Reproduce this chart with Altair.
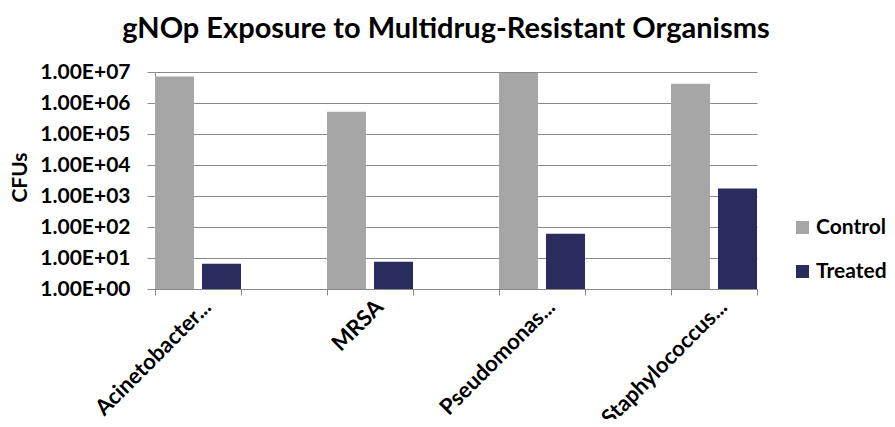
import altair as alt
import pandas as pd

# ---- data ----
categories = ["Acinetobacter...", "MRSA", "Pseudomonas...", "Staphylococcus..."]
control = [7.2e6, 5.2e5, 9.3e6, 4.2e6]
treated = [6.5, 7.6, 61, 1760]
series = ["Control", "Treated"]
colors = ["#A6A6A6", "#292C5C"]
y_ticks = [1, 10, 100, 1e3, 1e4, 1e5, 1e6, 1e7]
title_text = "gNOp Exposure to Multidrug-Resistant Organisms"

rows = []
for c, a, b in zip(categories, control, treated):
    rows.append({"Organism": c, "Group": series[0], "CFUs": a})
    rows.append({"Organism": c, "Group": series[1], "CFUs": b})
df = pd.DataFrame(rows)

# each organism occupies a labelled slot; an empty slot sits between organisms
slots = []
for i, c in enumerate(categories):
    slots.append(c)
    if i < len(categories) - 1:
        slots.append(" " * (i + 1))

FONT = "Lato"
GRAY = "#8A8A8A"

chart = (
    alt.Chart(df)
    .mark_bar()
    .encode(
        x=alt.X(
            "Organism:N",
            scale=alt.Scale(domain=slots, paddingInner=0, paddingOuter=0),
            axis=alt.Axis(
                title=None,
                labelAngle=-45,
                labelAlign="right",
                labelBaseline="top",
                labelFont=FONT,
                labelFontSize=22,
                labelFontWeight="bold",
                labelColor="black",
                labelOffset=2,
                labelPadding=1,
                tickBand="extent",
                tickSize=6,
                tickColor=GRAY,
                domainColor=GRAY,
                grid=False,
            ),
        ),
        xOffset=alt.XOffset(
            "Group:N",
            scale=alt.Scale(domain=series, paddingInner=0.17, paddingOuter=0),
        ),
        y=alt.Y(
            "CFUs:Q",
            stack=None,
            scale=alt.Scale(type="log", domain=[1, 1e7]),
            axis=alt.Axis(
                title="CFUs",
                values=y_ticks,
                labelExpr="'1.00E+0' + round(log(datum.value) / LN10)",
                labelFont=FONT,
                labelFontSize=21,
                labelFontWeight="bold",
                labelColor="black",
                labelPadding=17,
                tickSize=8,
                tickColor=GRAY,
                domainColor=GRAY,
                gridColor=GRAY,
                gridWidth=1,
                titleFont=FONT,
                titleFontSize=21,
                titleFontWeight="bold",
                titleColor="black",
                titleAngle=-90,
                titleAlign="center",
                titleBaseline="middle",
                titleX=-135,
                titleY=105,
            ),
        ),
        y2=alt.Y2(datum=1),
        color=alt.Color(
            "Group:N",
            scale=alt.Scale(domain=series, range=colors),
            legend=alt.Legend(
                title=None,
                orient="none",
                legendX=637,
                legendY=145,
                symbolType="square",
                symbolSize=169,
                symbolStrokeWidth=0,
                labelFont=FONT,
                labelFontSize=21,
                labelFontWeight="bold",
                labelColor="black",
                labelOffset=3,
                rowPadding=22,
            ),
        ),
    )
    .properties(
        width=602,
        height=217,
        title=alt.TitleParams(
            text=title_text,
            font=FONT,
            fontSize=29,
            fontWeight="bold",
            color="black",
            anchor="middle",
            dx=-10,
            offset=17,
        ),
        autosize=alt.AutoSizeParams(type="none"),
        padding={"left": 147, "top": 64, "right": 130, "bottom": 130},
    )
    .configure_view(stroke=None)
)

chart.save("out.html", embed_options={"renderer": "svg", "actions": False})
